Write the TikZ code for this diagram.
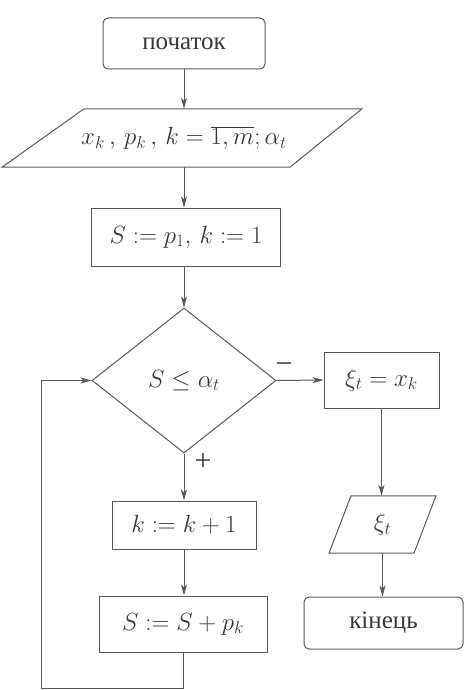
\documentclass[tikz,border=0pt]{standalone}
\usepackage{fontspec}
\setmainfont{Liberation Serif}
\usetikzlibrary{arrows.meta,shapes.geometric}
\definecolor{ink}{gray}{0.35}
\definecolor{txt}{gray}{0.22}
\tikzset{
  every node/.style={text=txt, font=\fontsize{25}{30}\selectfont},
  line/.style={draw=ink, line width=1pt},
  arr/.style={line, -{Stealth[length=11pt,width=6pt,inset=3pt]}},
  boxnode/.style={line, rectangle, inner sep=0pt},
  termnode/.style={line, rectangle, rounded corners=5pt, inner sep=0pt},
  ionode/.style={rectangle, inner sep=0pt},
  decnode/.style={line, diamond, inner sep=0pt},
  signnode/.style={inner sep=0pt, font=\fontsize{30}{34}\selectfont},
}
\begin{document}
\begin{tikzpicture}[x=1pt,y=-1pt]
\useasboundingbox (0,0) rectangle (465,690);
% left column
\node[termnode, minimum width=162pt, minimum height=51pt] (start) at (184,43.5) {початок};
\node[ionode, minimum width=280pt, minimum height=58pt] (input) at (184,138) {$x_k\,,\,p_k\,,\,k=\overline{1,m};\alpha_t$};
\draw[line] ([xshift=-100pt]input.north) -- ([xshift=178pt]input.north) -- ([xshift=106pt]input.south) -- ([xshift=-182pt]input.south) -- cycle;
\node[boxnode, minimum width=189pt, minimum height=58pt] (init) at (186,237) {$S:=p_1,\,k:=1$};
\node[decnode, minimum width=184pt, minimum height=145pt] (dec) at (184,380.5) {$S\le\alpha_t$};
\node[boxnode, minimum width=144pt, minimum height=48pt] (inc) at (184,525) {$k:=k+1$};
\node[boxnode, minimum width=168pt, minimum height=56pt] (sum) at (183,624) {$S:=S+p_k$};
% right column
\node[boxnode, minimum width=115pt, minimum height=56pt] (xi) at (381.5,380) {$\xi_t=x_k$};
\node[ionode, minimum width=85pt, minimum height=57pt] (out) at (382.5,524.5) {$\xi_t$};
\draw[line] ([xshift=-31.5pt]out.north) -- ([xshift=53.5pt]out.north) -- ([xshift=31.5pt]out.south) -- ([xshift=-53.5pt]out.south) -- cycle;
\node[termnode, minimum width=159pt, minimum height=52pt] (stop) at (383.5,623) {кінець};
% connectors
\draw[arr] (start.south) -- (input.north);
\draw[arr] (input.south) -- (input.south |- init.north);
\draw[arr] (init.south -| dec.north) -- (dec.north);
\draw[arr] (dec.south) -- (inc.north);
\draw[arr] (inc.south) -- (inc.south |- sum.north);
\draw[arr] (dec.east) -- (xi.west);
\draw[arr] (xi.south) -- (xi.south |- out.north);
\draw[arr] (out.south) -- (out.south |- stop.north);
\coordinate (lb) at (41,688);
\draw[arr] (sum.south) |- (lb) |- (dec.west);
% labels
\node[signnode] (minus) at (284,368) {−};
\node[signnode] (plus) at (203,462) {+};
\end{tikzpicture}
\end{document}
